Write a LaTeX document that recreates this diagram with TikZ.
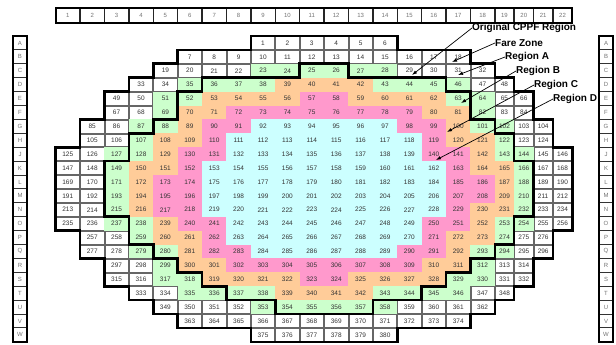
\documentclass[tikz,border=0pt]{standalone}
\usepackage{fontspec}
\setmainfont{Liberation Sans}
\usetikzlibrary{arrows.meta}

\definecolor{zg}{HTML}{CCFFCC}
\definecolor{zo}{HTML}{FFCC99}
\definecolor{zp}{HTML}{FF99CC}
\definecolor{zc}{HTML}{CCFFFF}

\begin{document}
\begin{tikzpicture}[x=1pt, y=-1pt,
  cellline/.style={draw=black!60, line width=0.6pt, fill=white},
  cellnum/.style={font=\fontsize{6.5}{7}\selectfont, text=black!80, inner sep=0pt},
  edgelbl/.style={font=\fontsize{6}{7}\selectfont, text=black!55, inner sep=0pt},
  zoneline/.style={line width=2.6pt, line join=miter},
  callout/.style={font=\bfseries\fontsize{10}{12}\selectfont, anchor=west, inner sep=0pt},
  pointer/.style={line width=0.7pt, -{Latex[length=5pt,width=3.5pt]}}]

\useasboundingbox (0,0) rectangle (616,345);

\def\ce{{55.6,80.0,104.4,128.8,153.2,177.6,202.0,226.4,250.8,275.2,299.6,324.0,348.4,372.8,397.2,421.6,446.0,470.4,494.8,514.15,533.5,552.85,572.2}}
\def\ya{36}
\def\rh{13.9}

% row / first col / last col / first number
\def\rowlist{0/9/14/1,1/6/17/7,2/5/18/19,3/4/19/33,4/3/20/49,5/3/20/67,6/2/21/85,7/2/21/105,8/1/22/125,9/1/22/147,10/1/22/169,11/1/22/191,12/1/22/213,13/1/22/235,14/2/21/257,15/2/21/277,16/3/20/297,17/3/20/315,18/4/19/333,19/5/18/349,20/6/17/363,21/9/14/375}

% grid corners
\foreach \c in {1,...,23} {
  \foreach \i in {0,...,22} {
    \pgfmathsetmacro\gx{\ce[\c-1]}
    \coordinate (g-\c-\i) at (\gx, \ya+\i*\rh);
  }
}

% white cells
\foreach \i/\ca/\cb/\n in \rowlist {
  \foreach \c in {\ca,...,\cb} {
    \pgfmathsetmacro\xl{\ce[\c-1]}
    \pgfmathsetmacro\xr{\ce[\c]}
    \draw[cellline] (\xl+0.5, \ya+\i*\rh+0.5) rectangle (\xr-0.5, \ya+\i*\rh+\rh-0.5);
  }
}

% regions
\foreach \i/\ca/\cb/\zc in {2/9/14/zg,
  3/6/9/zg, 3/10/13/zo, 3/14/17/zg,
  4/5/6/zg, 4/7/10/zo, 4/11/12/zp, 4/13/16/zo, 4/17/18/zg,
  5/5/5/zg, 5/6/7/zo, 5/8/15/zp, 5/16/17/zo, 5/18/18/zg,
  6/4/5/zg, 6/6/6/zo, 6/7/8/zp, 6/9/14/zc, 6/15/16/zp, 6/17/17/zo, 6/18/19/zg,
  7/4/4/zg, 7/5/6/zo, 7/7/7/zp, 7/8/15/zc, 7/16/16/zp, 7/17/18/zo, 7/19/19/zg,
  8/3/4/zg, 8/5/5/zo, 8/6/7/zp, 8/8/15/zc, 8/16/17/zp, 8/18/18/zo, 8/19/20/zg,
  9/3/3/zg, 9/4/5/zo, 9/6/6/zp, 9/7/16/zc, 9/17/17/zp, 9/18/19/zo, 9/20/20/zg,
  10/3/3/zg, 10/4/4/zo, 10/5/6/zp, 10/7/16/zc, 10/17/18/zp, 10/19/19/zo, 10/20/20/zg,
  11/3/3/zg, 11/4/4/zo, 11/5/6/zp, 11/7/16/zc, 11/17/18/zp, 11/19/19/zo, 11/20/20/zg,
  12/3/3/zg, 12/4/4/zo, 12/5/6/zp, 12/7/16/zc, 12/17/17/zp, 12/18/19/zo, 12/20/20/zg,
  13/3/4/zg, 13/5/5/zo, 13/6/7/zp, 13/8/15/zc, 13/16/17/zp, 13/18/18/zo, 13/19/20/zg,
  14/4/4/zg, 14/5/6/zo, 14/7/7/zp, 14/8/15/zc, 14/16/16/zp, 14/17/18/zo, 14/19/19/zg,
  15/4/5/zg, 15/6/6/zo, 15/7/8/zp, 15/9/14/zc, 15/15/16/zp, 15/17/17/zo, 15/18/19/zg,
  16/5/5/zg, 16/6/7/zo, 16/8/15/zp, 16/16/17/zo, 16/18/18/zg,
  17/5/6/zg, 17/7/10/zo, 17/11/12/zp, 17/13/16/zo, 17/17/18/zg,
  18/6/9/zg, 18/10/13/zo, 18/14/17/zg,
  19/9/14/zg} {
  \pgfmathsetmacro\xl{\ce[\ca-1]}
  \pgfmathsetmacro\xr{\ce[\cb]}
  \fill[\zc] (\xl, \ya+\i*\rh) rectangle (\xr, \ya+\i*\rh+\rh);
}

% cell numbers
\foreach \i/\ca/\cb/\n in \rowlist {
  \foreach \c in {\ca,...,\cb} {
    \pgfmathsetmacro\xl{\ce[\c-1]}
    \pgfmathsetmacro\xr{\ce[\c]}
    \pgfmathtruncatemacro\num{\n+\c-\ca}
    \node[cellnum] (n\num) at ({(\xl+\xr)/2}, \ya+\i*\rh+0.5*\rh) {\num};
  }
}

% column header
\foreach \c in {1,...,22} {
  \pgfmathsetmacro\xl{\ce[\c-1]}
  \pgfmathsetmacro\xr{\ce[\c]}
  \draw[line width=1.4pt, black!85] (\xl, 8.5) -- (\xl, 23);
  \node[edgelbl] (h\c) at ({(\xl+\xr)/2}, 15.8) {\c};
}
\draw[line width=2pt] (55.6, 8.5) rectangle (572.2, 23);

% row letters, both sides
\foreach \lt [count=\k from 0] in {A,B,C,D,E,F,G,H,J,K,L,M,N,O,P,Q,R,S,T,U,V,W} {
  \draw[line width=1pt, black!80] (13, \ya+\k*\rh) -- (27, \ya+\k*\rh);
  \draw[line width=1pt, black!80] (599, \ya+\k*\rh) -- (613, \ya+\k*\rh);
  \node[edgelbl] (l\lt) at (20, \ya+\k*\rh+0.5*\rh) {\lt};
  \node[edgelbl] (r\lt) at (606, \ya+\k*\rh+0.5*\rh) {\lt};
}
\draw[line width=2pt] (13, 36) rectangle (27, 341.8);
\draw[line width=2pt] (599, 36) rectangle (613, 341.8);

% fare zone outline
\draw[zoneline] (g-9-0) -- (g-15-0) |- (g-18-1) |- (g-19-2) |- (g-20-3) |- (g-21-4)
  |- (g-22-6) |- (g-23-8) -- (g-23-14) -| (g-22-16) -| (g-21-18) -| (g-20-19)
  -| (g-19-20) -| (g-18-21) -| (g-15-22) -- (g-9-22) |- (g-6-21) |- (g-5-20)
  |- (g-4-19) |- (g-3-18) |- (g-2-16) |- (g-1-14) -- (g-1-8) -| (g-2-6)
  -| (g-3-4) -| (g-4-3) -| (g-5-2) -| (g-6-1) -| (g-9-0) -- cycle;

% original CPPF outline
\draw[zoneline] (g-11-2) -- (g-13-2) |- (g-17-3) |- (g-18-4) |- (g-19-6) |- (g-20-7)
  |- (g-21-9) -- (g-21-13) -| (g-20-15) -| (g-19-16) -| (g-18-17) -| (g-17-18)
  -| (g-16-19) -- (g-14-19) |- (g-10-20) |- (g-8-19) |- (g-7-18) |- (g-6-17)
  |- (g-5-16) |- (g-4-15) |- (g-3-13) -- (g-3-9) -| (g-4-7) -| (g-5-6)
  -| (g-6-4) -| (g-7-3) -- (g-11-3) -- cycle;

% callouts
\node[callout] (cppf) at (472, 28) {Original CPPF Region};
\node[callout] (fare) at (495, 43) {Fare Zone};
\node[callout] (rega) at (505, 57) {Region A};
\node[callout] (regb) at (516, 71) {Region B};
\node[callout] (regc) at (534, 85) {Region C};
\node[callout] (regd) at (553, 99) {Region D};

\coordinate (cppftip) at (412, 75);
\coordinate (faretip) at (452, 62);
\coordinate (regatip) at (458, 75);
\coordinate (regbtip) at (461, 103);
\coordinate (regctip) at (447, 132);
\coordinate (regdtip) at (436, 160);

\draw[pointer] (cppf.west) -- (cppftip);
\draw[pointer] (fare.west) -- (faretip);
\draw[pointer] (rega.west) -- (regatip);
\draw[pointer] (regb.west) -- (regbtip);
\draw[pointer] (regc.west) -- (regctip);
\draw[pointer] (regd.west) -- (regdtip);

\end{tikzpicture}
\end{document}
